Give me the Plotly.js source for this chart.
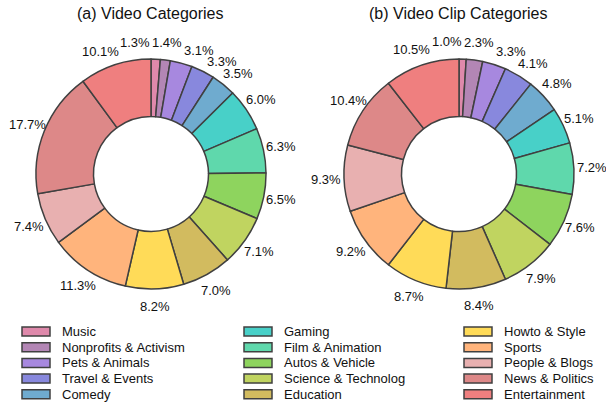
<!DOCTYPE html>
<html><head><meta charset="utf-8">
<script src="https://cdn.plot.ly/plotly-3.0.1.min.js"></script>
<style>html,body{margin:0;padding:0;background:#fff}#chart{width:606px;height:402px}</style>
</head><body><div id="chart"></div>
<script>
const categories = ["Music","Nonprofits & Activism","Pets & Animals","Travel & Events","Comedy","Gaming","Film & Animation","Autos & Vehicle","Science & Technolog","Education","Howto & Style","Sports","People & Blogs","News & Politics","Entertainment"];
const videoShare = [1.3,1.4,3.1,3.3,3.5,6.0,6.3,6.5,7.1,7.0,8.2,11.3,7.4,17.7,10.1];
const clipShare = [1.0,2.3,3.3,4.1,4.8,5.1,7.2,7.6,7.9,8.4,8.7,9.2,9.3,10.4,10.5];
const colors = ["#df89ab","#b386b5","#a788df","#8888dd","#6fabcf","#48d0c8","#5fd8ac","#8ed45e","#c0d460","#d2bb5f","#ffdb58","#ffb47c","#e8b0b0","#dd8888","#ef7f7f"];
const titles = ["(a) Video Categories","(b) Video Clip Categories"];

const W = 606, H = 402;
const FONT = "Liberation Sans, Arial, sans-serif";
const edge = {color:"#404040", width:1.5};

// pie geometry (pixels): centre x, centre y, radius
const pies = [
  {vals: videoShare, cx: 151, cy: 174, r: 115},
  {vals: clipShare,  cx: 459, cy: 174, r: 115}
];

function donut(p){
  return {type:"pie", labels:categories, values:p.vals, sort:false, direction:"clockwise", rotation:0,
    hole:0.5, marker:{colors:colors, line:edge}, textinfo:"none", showlegend:false, hoverinfo:"label+value",
    domain:{x:[(p.cx-p.r)/W,(p.cx+p.r)/W], y:[1-(p.cy+p.r)/H, 1-(p.cy-p.r)/H]}};
}

// percentage labels outside each slice, spread apart where they would collide
function sliceLabels(p){
  const total = p.vals.reduce((a,b)=>a+b,0);
  let cum = 0;
  const items = p.vals.map(v=>{
    const mid = (cum + v/2)/total*2*Math.PI; cum += v;
    const t = v.toFixed(1)+"%";
    const nd = t.replace(/[^0-9]/g,"").length;
    return {ang: mid, text: t, w: nd*7.23 + 3.6 + 11.6};
  });
  const rl = p.r*1.155, h = 11.5, n = items.length;
  const pos = it => [p.cx + rl*Math.sin(it.ang), p.cy - rl*Math.cos(it.ang)];
  for (let iter=0; iter<2000; iter++){
    let moved = false;
    for (let i=0;i<n;i++){
      const j = (i+1)%n;
      const [xi,yi] = pos(items[i]), [xj,yj] = pos(items[j]);
      if (Math.abs(xi-xj) < (items[i].w+items[j].w)/2 + 2 && Math.abs(yi-yj) < h){
        items[i].ang -= 0.002; items[j].ang += 0.002; moved = true;
      }
    }
    if (!moved) break;
  }
  return items.map(it=>{
    const [x,y] = pos(it);
    return {text: it.text, xref:"paper", yref:"paper", x: x/W, y: 1-y/H, xanchor:"center", yanchor:"middle",
      showarrow:false, font:{family:FONT, size:13, color:"#111"}};
  });
}

const traces = pies.map(donut);
let annotations = [];
pies.forEach(p=>{ annotations = annotations.concat(sliceLabels(p)); });
titles.forEach((t,i)=>annotations.push({text:t, xref:"paper", yref:"paper", x:(i===0?150:458)/W, y:1-14/H,
  xanchor:"center", yanchor:"middle", showarrow:false, font:{family:FONT,size:16,color:"#111"}}));

// legend: three columns of five entries
const colSwatchX = [22, 244, 464];
const rowY0 = 331.5, rowStep = 15.7;
const shapes = [];
categories.forEach((c,i)=>{
  const col = Math.floor(i/5), row = i%5;
  const x0 = colSwatchX[col], yc = rowY0 + row*rowStep;
  shapes.push({type:"rect", xref:"paper", yref:"paper", x0:x0/W, x1:(x0+28)/W, y0:1-(yc+4.5)/H, y1:1-(yc-4.5)/H,
    fillcolor:colors[i], line:{color:"#404040", width:1.5}, layer:"above"});
  annotations.push({text:c, xref:"paper", yref:"paper", x:(x0+38)/W, y:1-yc/H, xanchor:"left", yanchor:"middle",
    showarrow:false, font:{family:FONT,size:13,color:"#111"}});
});

const layout = {
  width:W, height:H, margin:{l:0,r:0,t:0,b:0}, paper_bgcolor:"#fff", plot_bgcolor:"#fff",
  font:{family:FONT}, showlegend:false, annotations:annotations, shapes:shapes
};
Plotly.newPlot("chart", traces, layout, {displayModeBar:false, staticPlot:true});
</script></body></html>
